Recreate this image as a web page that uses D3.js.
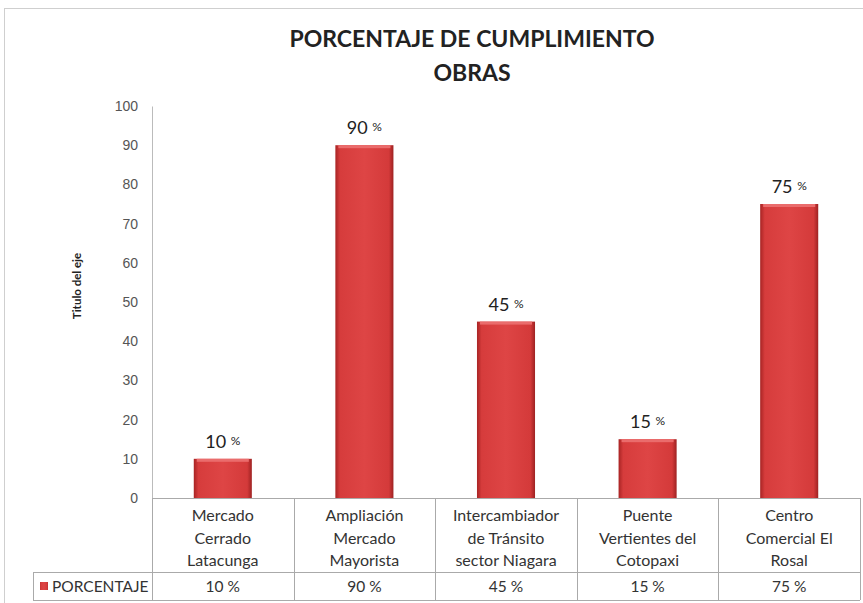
<!DOCTYPE html>
<html lang="es">
<head>
<meta charset="utf-8">
<title>Porcentaje de cumplimiento obras</title>
<script src="https://cdn.jsdelivr.net/npm/d3@7"></script>
<style>
  body { margin: 0; background: #fff; }
  svg { display: block; font-family: Lato, "Open Sans", sans-serif; }
  .tick text { fill: #555; font-size: 14px; }
  .cat { fill: #333; font-size: 16px; }
  .val { fill: #333; font-size: 15.5px; }
  .grid line { stroke: #aaa; }
</style>
</head>
<body>
<svg id="chart"></svg>
<script>
// data
var categories = [
  ["Mercado", "Cerrado", "Latacunga"],
  ["Ampliación", "Mercado", "Mayorista"],
  ["Intercambiador", "de Tránsito", "sector Niagara"],
  ["Puente", "Vertientes del", "Cotopaxi"],
  ["Centro", "Comercial El", "Rosal"]
];
var values = [10, 90, 45, 15, 75];
var seriesName = "PORCENTAJE";
var yTicks = [0, 10, 20, 30, 40, 50, 60, 70, 80, 90, 100];

var W = 863, H = 603;
var plot = {left: 152, right: 860, top: 106, bottom: 498};
var rowSplit = 572, tableBottom = 600, tableLeft = 33;

var svg = d3.select("#chart").attr("width", W).attr("height", H);

// bar gradient
var defs = svg.append("defs");
var grad = defs.append("linearGradient").attr("id", "barGrad")
    .attr("x1", "0").attr("x2", "1").attr("y1", "0").attr("y2", "0");
grad.append("stop").attr("offset", "0%").attr("stop-color", "#a82424");
grad.append("stop").attr("offset", "8%").attr("stop-color", "#d63c3c");
grad.append("stop").attr("offset", "50%").attr("stop-color", "#de4545");
grad.append("stop").attr("offset", "92%").attr("stop-color", "#d43a3a");
grad.append("stop").attr("offset", "100%").attr("stop-color", "#9e2222");

// outer frame
svg.append("rect").attr("x", 4.5).attr("y", 8.5).attr("width", 900).attr("height", 620)
    .attr("fill", "none").attr("stroke", "#cfcfcf");

// title
svg.append("text").attr("x", 472).attr("y", 47).attr("text-anchor", "middle")
    .attr("font-size", 23).attr("font-weight", "bold").attr("fill", "#222")
    .text("PORCENTAJE DE CUMPLIMIENTO");
svg.append("text").attr("x", 472).attr("y", 81).attr("text-anchor", "middle")
    .attr("font-size", 23).attr("font-weight", "bold").attr("fill", "#222")
    .text("OBRAS");

var x = d3.scaleBand().domain(d3.range(values.length))
    .range([plot.left, plot.right]).paddingInner(0.59).paddingOuter(0.295);
var band = d3.scaleBand().domain(d3.range(values.length))
    .range([plot.left, plot.right]);
var y = d3.scaleLinear().domain([0, 100]).range([plot.bottom, plot.top]);

// y axis
var yAxis = svg.append("g").attr("transform", "translate(" + plot.left + ",0)")
    .call(d3.axisLeft(y).tickValues(yTicks).tickSize(0).tickPadding(14));
yAxis.select(".domain").attr("stroke", "#bbb");

svg.append("text")
    .attr("transform", "translate(81," + 286 + ") rotate(-90)")
    .attr("text-anchor", "middle").attr("font-size", 11.5).attr("font-weight", "bold")
    .attr("fill", "#222").text("Titulo del eje");

// bars
svg.selectAll("rect.bar").data(values).enter().append("rect")
    .attr("class", "bar")
    .attr("x", function(d, i) { return x(i); })
    .attr("y", function(d) { return y(d); })
    .attr("width", x.bandwidth())
    .attr("height", function(d) { return y(0) - y(d); })
    .attr("fill", "url(#barGrad)");
// top bevel
svg.selectAll("rect.bevel").data(values).enter().append("rect")
    .attr("class", "bevel")
    .attr("x", function(d, i) { return x(i) + 3; })
    .attr("y", function(d) { return y(d); })
    .attr("width", x.bandwidth() - 6)
    .attr("height", 3)
    .attr("fill", "#ea6c6c");

// data labels
var lab = svg.selectAll("text.lab").data(values).enter().append("text")
    .attr("class", "lab")
    .attr("x", function(d, i) { return x(i) + x.bandwidth() / 2; })
    .attr("y", function(d) { return y(d) - 11; })
    .attr("text-anchor", "middle").attr("fill", "#222");
lab.append("tspan").attr("font-size", 18).text(function(d) { return d + " "; });
lab.append("tspan").attr("font-size", 12).attr("dy", -3).text("%");

// data table
var grid = svg.append("g").attr("class", "grid");
grid.append("line").attr("x1", plot.left).attr("x2", plot.right)
    .attr("y1", plot.bottom + 0.5).attr("y2", plot.bottom + 0.5);
grid.append("line").attr("x1", tableLeft).attr("x2", plot.right)
    .attr("y1", rowSplit + 0.5).attr("y2", rowSplit + 0.5);
grid.append("line").attr("x1", tableLeft).attr("x2", plot.right)
    .attr("y1", tableBottom + 0.5).attr("y2", tableBottom + 0.5);
grid.append("line").attr("x1", tableLeft + 0.5).attr("x2", tableLeft + 0.5)
    .attr("y1", rowSplit).attr("y2", tableBottom);
grid.selectAll("line.v").data(d3.range(values.length + 1)).enter().append("line")
    .attr("class", "v")
    .attr("x1", function(i) { return Math.round(plot.left + i * band.step()) + 0.5; })
    .attr("x2", function(i) { return Math.round(plot.left + i * band.step()) + 0.5; })
    .attr("y1", plot.bottom).attr("y2", tableBottom);

// category labels
var cat = svg.selectAll("text.cat").data(categories).enter().append("text")
    .attr("class", "cat").attr("text-anchor", "middle")
    .attr("x", function(d, i) { return band(i) + band.bandwidth() / 2; })
    .attr("y", 521);
cat.selectAll("tspan").data(function(d) { return d; }).enter().append("tspan")
    .attr("x", function() { return d3.select(this.parentNode).attr("x"); })
    .attr("dy", function(d, j) { return j === 0 ? 0 : 22.5; })
    .text(function(d) { return d; });

// value row
svg.selectAll("text.val").data(values).enter().append("text")
    .attr("class", "val").attr("text-anchor", "middle")
    .attr("x", function(d, i) { return band(i) + band.bandwidth() / 2; })
    .attr("y", 592)
    .text(function(d) { return d + " %"; });

// legend key
svg.append("rect").attr("x", 40).attr("y", 582).attr("width", 8).attr("height", 8)
    .attr("fill", "url(#barGrad)");
svg.append("text").attr("class", "val").attr("x", 52).attr("y", 592)
    .text(seriesName);
</script>
</body>
</html>
